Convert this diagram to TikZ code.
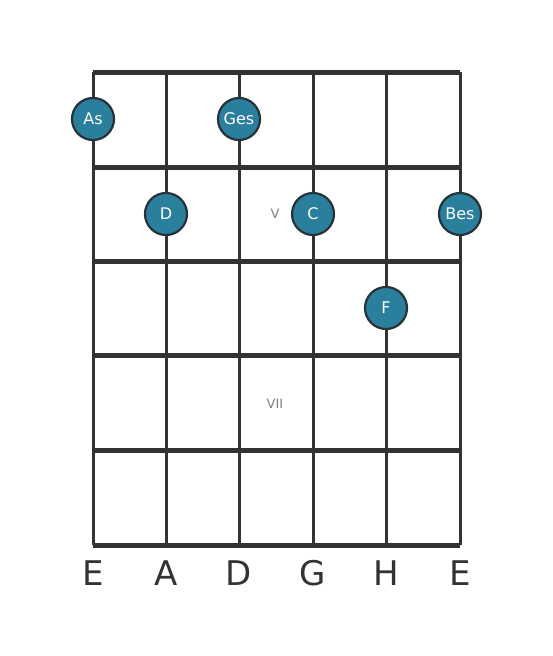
\documentclass[tikz,border=0pt]{standalone}
\usepackage{fontspec}
\setmainfont{DejaVu Sans}
\usetikzlibrary{positioning}
\definecolor{fretgray}{HTML}{333333}
\definecolor{noteblue}{HTML}{2A7F9D}
\definecolor{noterim}{HTML}{263238}
\tikzset{
  fret/.style={line width=5pt, draw=fretgray},
  string/.style={line width=3pt, draw=fretgray},
  note/.style={draw=noterim, line width=2.2pt, circle, fill=noteblue, text=white,
    minimum size=42pt, inner sep=0pt, font=\fontsize{16}{16}\selectfont},
  marker/.style={text=gray, font=\fontsize{13}{13}\selectfont},
  tuning/.style={text=fretgray, font=\fontsize{34}{34}\selectfont}
}
\begin{document}
\begin{tikzpicture}[x=1pt,y=-1pt]
				\useasboundingbox (0,0) rectangle (553,656);
				% strings, top and bottom ends
				\coordinate (s1t) at (93,72);   \coordinate (s1b) at (93,545);
				\coordinate (s2t) at (166,72);  \coordinate (s2b) at (166,545);
				\coordinate (s3t) at (239,72);  \coordinate (s3b) at (239,545);
				\coordinate (s4t) at (313,72);  \coordinate (s4b) at (313,545);
				\coordinate (s5t) at (386,72);  \coordinate (s5b) at (386,545);
				\coordinate (s6t) at (460,72);  \coordinate (s6b) at (460,545);
				\draw[string] (s1t) -- (s1b);
				\draw[string] (s2t) -- (s2b);
				\draw[string] (s3t) -- (s3b);
				\draw[string] (s4t) -- (s4b);
				\draw[string] (s5t) -- (s5b);
				\draw[string] (s6t) -- (s6b);
				% frets
				\coordinate (f0l) at (93,72);   \coordinate (f0r) at (460,72);
				\coordinate (f1l) at (93,167);  \coordinate (f1r) at (460,167);
				\coordinate (f2l) at (93,261);  \coordinate (f2r) at (460,261);
				\coordinate (f3l) at (93,355);  \coordinate (f3r) at (460,355);
				\coordinate (f4l) at (93,450);  \coordinate (f4r) at (460,450);
				\coordinate (f5l) at (93,545);  \coordinate (f5r) at (460,545);
				\draw[fret] (f0l) -- (f0r);
				\draw[fret] (f1l) -- (f1r);
				\draw[fret] (f2l) -- (f2r);
				\draw[fret] (f3l) -- (f3r);
				\draw[fret] (f4l) -- (f4r);
				\draw[fret] (f5l) -- (f5r);
				% position markers
				\node[marker] (v) at (275,214) {V};
				\node[marker] (vii) at (275,404) {VII};
				% notes
				\node[note] (as) at (93,119) {As};
				\node[note] (ges) at (239,119) {Ges};
				\node[note] (d) at (166,214) {D};
				\node[note] (c) at (313,214) {C};
				\node[note] (bes) at (460,214) {Bes};
				\node[note] (f) at (386,308) {F};
				% tuning
				\node[tuning] (e1) at (93,573) {E};
				\node[tuning] (a) at (166,573) {A};
				\node[tuning] (d1) at (239,573) {D};
				\node[tuning] (g) at (313,573) {G};
				\node[tuning] (h) at (386,573) {H};
				\node[tuning] (e2) at (460,573) {E};
\end{tikzpicture}
\end{document}
